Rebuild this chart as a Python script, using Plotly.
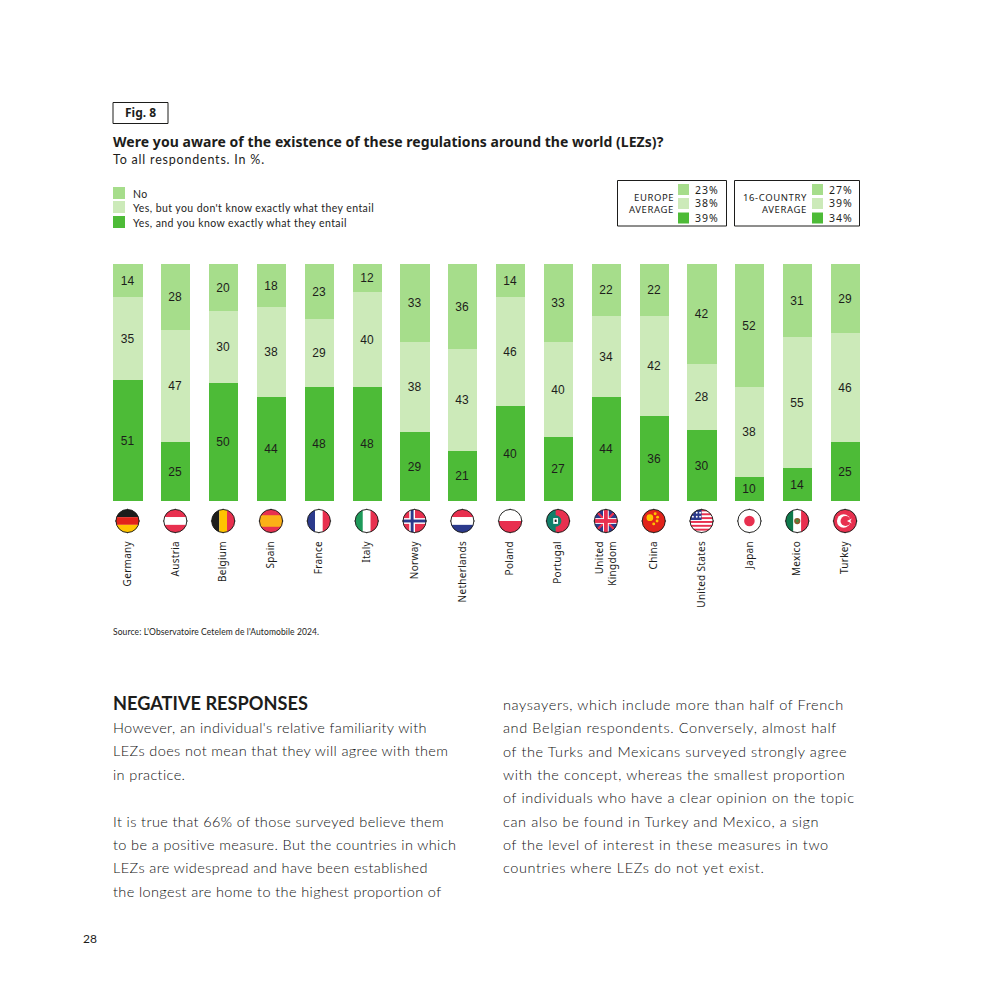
import base64
import plotly.graph_objects as go

countries = ["Germany","Austria","Belgium","Spain","France","Italy","Norway","Netherlands","Poland","Portugal",
             "United<br>Kingdom","China","United States","Japan","Mexico","Turkey"]
know = [51,25,50,44,48,48,29,21,40,27,44,36,30,10,14,25]
unsure = [35,47,30,38,29,40,38,43,46,40,34,42,28,38,55,46]
no = [14,28,20,18,23,12,33,36,14,33,22,22,42,52,31,29]
series_names = ["Yes, and you know exactly what they entail","Yes, but you don't know exactly what they entail","No"]
europe_avg = ["23%","38%","39%"]
world_avg = ["27%","39%","34%"]
left_col = ["However, an individual's relative familiarity with","LEZs does not mean that they will agree with them","in practice.","",
            "It is true that 66% of those surveyed believe them","to be a positive measure. But the countries in which",
            "LEZs are widespread and have been established","the longest are home to the highest proportion of"]
right_col = ["naysayers, which include more than half of French","and Belgian respondents. Conversely, almost half",
             "of the Turks and Mexicans surveyed strongly agree","with the concept, whereas the smallest proportion",
             "of individuals who have a clear opinion on the topic","can also be found in Turkey and Mexico, a sign",
             "of the level of interest in these measures in two","countries where LEZs do not yet exist."]

DARK, MID, LIGHT, INK = "#4DBB37", "#A6DD8B", "#CCEAB9", "#1D1D1B"
W = 992
px = lambda x: x / W
py = lambda y: 1 - y / W

R, B, G, Y, K = "#E8304F", "#2B3A8C", "#1E9A5A", "#FFC400", "#1D1D1B"
def h3(a, b, c):
    return f'<rect x="0" y="0" width="48" height="16" fill="{a}"/><rect x="0" y="16" width="48" height="16" fill="{b}"/><rect x="0" y="32" width="48" height="16" fill="{c}"/>'
def v3(a, b, c):
    return f'<rect x="0" y="0" width="16" height="48" fill="{a}"/><rect x="16" y="0" width="16" height="48" fill="{b}"/><rect x="32" y="0" width="16" height="48" fill="{c}"/>'
flags = [
    h3(K, "#E2231A", Y), h3(R, "#FFFFFF", R), v3(K, Y, R),
    f'<rect width="48" height="48" fill="{R}"/><rect y="12" width="48" height="24" fill="#FBB017"/>',
    v3(B, "#FFFFFF", R), v3(G, "#FFFFFF", R),
    f'<rect width="48" height="48" fill="{R}"/><rect x="13" width="12" height="48" fill="#fff"/><rect y="18" width="48" height="12" fill="#fff"/><rect x="16" width="6" height="48" fill="{B}"/><rect y="21" width="48" height="6" fill="{B}"/>',
    h3(R, "#FFFFFF", B),
    f'<rect width="48" height="24" fill="#fff"/><rect y="24" width="48" height="24" fill="{R}"/>',
    f'<rect width="48" height="48" fill="{R}"/><rect width="19" height="48" fill="#11806A"/><circle cx="19" cy="24" r="12" fill="#11806A"/><rect x="14" y="18" width="10" height="12" fill="#fff"/><rect x="17" y="21" width="4" height="5" fill="{K}"/>',
    f'<rect width="48" height="48" fill="{B}"/><path d="M0 0L48 48M48 0L0 48" stroke="{R}" stroke-width="5"/><rect x="18" width="12" height="48" fill="#fff"/><rect y="18" width="48" height="12" fill="#fff"/><rect x="20" width="8" height="48" fill="{R}"/><rect y="20" width="48" height="8" fill="{R}"/>',
    f'<rect width="48" height="48" fill="#E2231A"/><circle cx="16" cy="17" r="7" fill="{Y}"/><circle cx="27" cy="9" r="3" fill="{Y}"/><circle cx="32" cy="16" r="3" fill="{Y}"/><circle cx="31" cy="24" r="3" fill="{Y}"/><circle cx="24" cy="30" r="3" fill="{Y}"/>',
    f'<rect width="48" height="48" fill="#fff"/>' + "".join(f'<rect y="{i}" width="48" height="4" fill="{R}"/>' for i in range(0, 48, 8)) + f'<rect width="24" height="22" fill="{B}"/>' + "".join(f'<circle cx="{x}" cy="{y}" r="2" fill="#fff"/>' for x in (6, 14, 21) for y in (7, 15)),
    f'<rect width="48" height="48" fill="#fff"/><circle cx="24" cy="24" r="11" fill="{R}"/>',
    v3("#0E7A4C", "#FFFFFF", R) + '<circle cx="24" cy="24" r="6.5" fill="#8A5A2B"/><circle cx="24" cy="24" r="3" fill="#3E8E41"/>',
    f'<rect width="48" height="48" fill="{R}"/><circle cx="21" cy="24" r="14" fill="#fff"/><circle cx="25" cy="24" r="10.5" fill="{R}"/><path d="M28 24l10-5-3 5 3 5z" fill="#fff"/>',
]
def flag_uri(inner):
    ticks = '<path d="M26 0V4M26 48V52M0 26H4M48 26H52" stroke="#1D1D1B" stroke-width="2"/>'
    svg = (f'<svg xmlns="http://www.w3.org/2000/svg" width="104" height="104" viewBox="0 0 52 52">{ticks}'
           f'<defs><clipPath id="c"><circle cx="24" cy="24" r="24"/></clipPath></defs>'
           f'<g transform="translate(2 2)"><g clip-path="url(#c)">{inner}</g>'
           f'<circle cx="24" cy="24" r="24" fill="none" stroke="#1D1D1B" stroke-width="2"/></g></svg>')
    return "data:image/svg+xml;base64," + base64.b64encode(svg.encode()).decode()

def spaced(s, sp):
    return f'<span style="letter-spacing:{sp}px">{s}</span>'

fig = go.Figure()
for name, vals, col in zip(series_names, (know, unsure, no), (DARK, LIGHT, MID)):
    fig.add_bar(x=list(range(len(countries))), y=vals, name=name, marker=dict(color=col, line_width=0),
                text=vals, textposition="inside", insidetextanchor="middle", textangle=0,
                textfont=dict(family="Liberation Sans", size=12, color=INK), width=0.61, showlegend=False)

ann, shp = [], []
def T(x, y, s, size, fam="Lato", anchor="left", color=INK, sp=0):
    shift = {"left": -2, "right": 2, "center": 0}[anchor]
    ann.append(dict(text=spaced(s, sp) if sp else s, x=px(x), y=py(y), xref="paper", yref="paper", xanchor=anchor,
                    yanchor="middle", xshift=shift, showarrow=False, align=anchor,
                    font=dict(family=fam, size=size, color=color)))
def box(x0, y0, x1, y1, fill="rgba(0,0,0,0)", line=None):
    shp.append(dict(type="rect", xref="paper", yref="paper", x0=px(x0), x1=px(x1), y0=py(y0), y1=py(y1),
                    fillcolor=fill, line=dict(color=line or fill, width=1 if line else 0)))

box(113, 102.5, 168, 123.5, line=INK)
T(140.5, 113, "<b>Fig. 8</b>", 12, "Noto Sans", "center")
T(113, 141.5, "<b>Were you aware of the existence of these regulations around the world (LEZs)?</b>", 14, "Noto Sans", sp=0.05)
T(113, 159, "To all respondents. In %.", 12.5, "Lato", sp=0.8)

for y, c, s in zip((193, 207, 222), (MID, LIGHT, DARK), series_names[::-1]):
    box(113, y - 6, 125, y + 6, fill=c)
    T(133, y + 0.5, s, 10.5, "Lato", sp=0.42)

box(617.5, 180.5, 726.5, 226, line=INK)
box(734.5, 180.5, 859.5, 226, line=INK)
T(674, 197, "EUROPE", 9.5, "Noto Sans", "right", sp=0.6)
T(674, 209, "AVERAGE", 9.5, "Noto Sans", "right", sp=0.6)
T(807, 197, "16-COUNTRY", 9.5, "Noto Sans", "right", sp=0.6)
T(807, 209, "AVERAGE", 9.5, "Noto Sans", "right", sp=0.6)
for sx, tx, vals in ((678, 719, europe_avg), (812, 853, world_avg)):
    for y, c, v in zip((189.5, 203.5, 218), (MID, LIGHT, DARK), vals):
        box(sx, y - 5.5, sx + 11, y + 5.5, fill=c)
        T(tx, y, v, 10.5, "Noto Sans", "right", sp=1)

T(113, 632, "Source: L'Observatoire Cetelem de l'Automobile 2024.", 8.5, "Lato", sp=0.1)
T(113, 703, "<b>NEGATIVE RESPONSES</b>", 18.2, "Lato")
T(83, 938, "28", 12, "Lato")
for x, sp, ys, lines in ((113, 0.38, (728, 751, 775, 798, 822, 845, 868, 892), left_col),
                         (503, 0.6, (705, 728, 752, 775, 798, 822, 845, 868), right_col)):
    for y, s in zip(ys, lines):
        if s:
            T(x, y - 0.5, s, 14.5, "Lato Light", color="#111111", sp=sp)

images = [dict(source=flag_uri(f), xref="x", yref="paper", x=i, y=py(521), sizex=25 / 47.87, sizey=25 / W,
               xanchor="center", yanchor="middle", sizing="stretch", layer="above") for i, f in enumerate(flags)]

fig.update_layout(
    width=W, height=W, margin=dict(l=0, r=0, t=0, b=0), paper_bgcolor="white", plot_bgcolor="white",
    barmode="stack", bargap=0, showlegend=False, annotations=ann, shapes=shp, images=images,
    xaxis=dict(domain=[px(103.57), px(869.0)], range=[-0.5, 15.5], tickmode="array",
               tickvals=list(range(len(countries))), ticktext=[spaced(c, 0.3) for c in countries], tickangle=-90,
               ticks="", showline=False, showgrid=False, zeroline=False, ticklabelstandoff=37,
               tickfont=dict(family="Noto Sans", size=10, color=INK)),
    yaxis=dict(domain=[py(501), py(264)], range=[0, 100], visible=False),
)
fig.write_html("out.html", config=dict(displayModeBar=False),
               post_script="document.body.style.margin='0';document.body.style.background='white';")
